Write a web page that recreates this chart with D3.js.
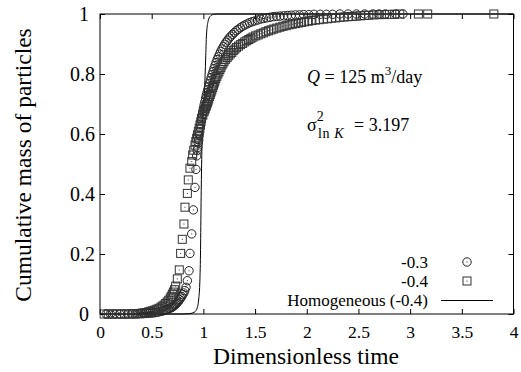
<!DOCTYPE html>
<html><head><meta charset="utf-8">
<script src="https://cdn.jsdelivr.net/npm/d3@7"></script>
<style>
body{margin:0;background:#fff}
svg{display:block}
svg text{font-family:"Liberation Serif","Times New Roman",serif !important;fill:#000}
</style>
</head><body>
<svg id="c" width="521" height="372"></svg>
<script>
// ---- data ----
const xTicks = [0, 0.5, 1, 1.5, 2, 2.5, 3, 3.5, 4];
const yTicks = [0, 0.2, 0.4, 0.6, 0.8, 1];
const seriesNames = ["-0.3", "-0.4", "Homogeneous (-0.4)"];

// -0.3 (circles): dimensionless time, cumulative mass
const circT = [0.06,0.1,0.14,0.19,0.23,0.27,0.31,0.34,0.37,0.4,0.42,0.44,0.46,0.48,0.5,0.52,0.54,0.56,0.58,0.6,0.615,0.63,0.645,0.66,0.675,0.69,0.7,0.71,0.72,0.73,0.74,0.75,0.76,0.77,0.78,0.79,0.8,0.81,0.82,0.832,
  0.845,0.861,0.870,0.887,0.903,0.919,0.928,0.935,
  0.94,0.945,0.95,0.955,0.96,0.965,0.97,0.975,0.98,0.985,0.99,0.995,1.0,1.007,1.014,1.021,1.028,1.035,1.043,1.051,1.059,1.067,1.075,1.084,1.093,1.102,1.112,1.122,1.133,1.144,1.156,1.168,1.18,1.193,1.206,1.22,1.235,1.25,1.266,1.282,1.3,1.318,1.337,1.357,1.378,1.4,1.423,1.447,1.472,1.498,1.525,1.553,1.582,1.612,1.643,1.675,1.708,1.742,1.777,1.813,1.85,1.89,1.93,1.97,2.02,2.07,2.13,2.19,2.25,2.32,2.4,2.48,2.56,2.64,2.7,2.76,2.86,2.93];
const circM = [0,0,0,0,0,0,0,0,0,0.001,0.001,0.002,0.002,0.003,0.003,0.004,0.005,0.006,0.008,0.01,0.011,0.013,0.015,0.017,0.019,0.021,0.023,0.026,0.029,0.032,0.035,0.039,0.043,0.048,0.053,0.058,0.064,0.07,0.078,0.089,
  0.111,0.144,0.202,0.267,0.347,0.422,0.482,0.527,
  0.545,0.555,0.57,0.58,0.595,0.607,0.62,0.632,0.645,0.655,0.665,0.675,0.685,0.696,0.707,0.718,0.728,0.738,0.748,0.758,0.768,0.778,0.788,0.798,0.808,0.818,0.828,0.838,0.848,0.857,0.866,0.875,0.883,0.891,0.899,0.906,0.913,0.92,0.926,0.932,0.938,0.944,0.949,0.954,0.959,0.963,0.967,0.971,0.974,0.977,0.98,0.983,0.985,0.987,0.989,0.991,0.992,0.993,0.994,0.995,0.996,0.997,0.997,0.998,0.998,0.999,0.999,0.999,0.999,1,1,1,1,1,1,1,1,1];

// -0.4 (squares)
const sqT = [0.04,0.08,0.12,0.16,0.2,0.24,0.28,0.32,0.36,0.39,0.41,0.43,0.45,0.47,0.49,0.51,0.53,0.55,0.57,0.59,0.605,0.62,0.635,0.65,0.665,0.68,0.69,0.7,0.71,0.72,0.732,
  0.748,0.767,0.78,0.796,0.812,0.822,0.845,0.854,0.870,0.887,0.896,0.907,0.919,0.927,0.935,0.943,0.951,0.959,0.967,0.975,0.983,
  0.995,1.006,1.013,1.019,1.026,1.032,1.039,1.045,1.052,1.06,1.067,1.075,1.082,1.09,1.097,1.105,1.112,1.12,1.13,1.14,1.15,1.16,1.17,1.18,1.19,1.2,1.215,1.23,1.245,1.26,1.275,1.29,1.305,1.32,1.34,1.36,1.38,1.4,1.42,1.44,1.46,1.48,1.505,1.53,1.555,1.58,1.605,1.63,1.655,1.68,1.71,1.74,1.77,1.8,1.83,1.86,1.89,1.92,1.95,1.98,2.015,2.05,2.085,2.12,2.16,2.2,2.24,2.28,2.32,2.36,2.4,2.44,2.48,2.52,2.56,2.6,2.65,2.7,2.75,2.8,2.85,2.9,3.08,3.17,3.81];
const sqM = [0,0,0,0,0,0,0,0.001,0.001,0.002,0.003,0.004,0.005,0.007,0.009,0.011,0.013,0.016,0.019,0.023,0.026,0.03,0.035,0.04,0.046,0.053,0.059,0.066,0.073,0.081,0.093,
  0.117,0.147,0.202,0.249,0.30,0.356,0.402,0.447,0.486,0.508,0.53,0.546,0.563,0.575,0.586,0.597,0.608,0.619,0.63,0.641,0.652,
  0.663,0.674,0.68,0.686,0.692,0.697,0.704,0.71,0.717,0.725,0.732,0.74,0.747,0.755,0.762,0.77,0.777,0.785,0.792,0.8,0.807,0.815,0.822,0.83,0.836,0.842,0.849,0.855,0.861,0.867,0.872,0.878,0.883,0.888,0.893,0.898,0.902,0.907,0.911,0.915,0.919,0.923,0.927,0.93,0.934,0.937,0.941,0.944,0.947,0.95,0.953,0.956,0.959,0.961,0.964,0.966,0.968,0.97,0.972,0.974,0.976,0.978,0.98,0.981,0.983,0.984,0.986,0.987,0.989,0.99,0.991,0.992,0.993,0.994,0.995,0.996,0.997,0.998,0.998,0.999,0.999,1,1,1,1];

// homogeneous (line)
const homT = [0,0.8,0.86,0.9,0.92,0.94,0.955,0.965,0.972,0.977,0.983,0.995,1.012,1.022,1.03,1.045,1.065,1.1,1.13,4];
const homM = [0,0,0.001,0.004,0.008,0.02,0.05,0.1,0.2,0.35,0.5,0.65,0.75,0.85,0.93,0.975,0.992,0.999,1,1];

// ---- chart ----
const FONT = '"Liberation Serif","Times New Roman",serif';
const svg = d3.select("#c");
const L = 100, R = 513.5, T = 14, B = 314;
const x = d3.scaleLinear().domain([0, 4]).range([L, R]);
const y = d3.scaleLinear().domain([0, 1]).range([B, T]);
const tickLen = 5;

const g = svg.append("g");

// ticks (inward, mirrored)
const axB = d3.axisBottom(x).tickValues(xTicks).tickSize(-tickLen).tickPadding(12)
  .tickFormat(d3.format("~g"));
const gb = g.append("g").attr("transform", `translate(0,${B})`).call(axB);
const axT = d3.axisTop(x).tickValues(xTicks).tickSize(-tickLen).tickFormat("");
g.append("g").attr("transform", `translate(0,${T})`).call(axT);
const axL = d3.axisLeft(y).tickValues(yTicks).tickSize(-tickLen).tickPadding(5)
  .tickFormat(d3.format("~g"));
const gl = g.append("g").attr("transform", `translate(${L},0)`).call(axL);
const axR = d3.axisRight(y).tickValues(yTicks).tickSize(-tickLen).tickFormat("");
g.append("g").attr("transform", `translate(${R},0)`).call(axR);

g.selectAll(".domain").remove();
g.selectAll("g").attr("font-family", FONT);
g.selectAll(".tick line").attr("stroke", "#000").attr("stroke-width", 1);
gb.selectAll(".tick text").attr("font-size", 17.5).style("font-family", FONT).attr("fill", "#000");
gl.selectAll(".tick text").attr("font-size", 20).style("font-family", FONT).attr("fill", "#000")
  .attr("dx", d => (d === 0 || d === 1) ? -6 : 0);

// frame
svg.append("rect").attr("x", L).attr("y", T).attr("width", R - L).attr("height", B - T)
  .attr("fill", "none").attr("stroke", "#000").attr("stroke-width", 1);

// homogeneous line
const line = d3.line().x(i => x(homT[i])).y(i => y(homM[i])).curve(d3.curveMonotoneX);
svg.append("path").attr("d", line(d3.range(homT.length)))
  .attr("fill", "none").attr("stroke", "#000").attr("stroke-width", 1);

// markers
const mk = svg.append("g");
function circle(gp, cx, cy) {
  gp.append("circle").attr("cx", cx).attr("cy", cy).attr("r", 4.2)
    .attr("fill", "none").attr("stroke", "#222").attr("stroke-width", 1);
  gp.append("rect").attr("x", cx - 0.5).attr("y", cy - 0.5).attr("width", 1).attr("height", 1).attr("fill", "#333");
}
function square(gp, cx, cy) {
  gp.append("rect").attr("x", cx - 4).attr("y", cy - 4).attr("width", 8).attr("height", 8)
    .attr("fill", "none").attr("stroke", "#333").attr("stroke-width", 1);
  gp.append("rect").attr("x", cx - 0.5).attr("y", cy - 0.5).attr("width", 1).attr("height", 1).attr("fill", "#333");
}
circT.forEach((t, i) => circle(mk, x(t), y(circM[i])));
sqT.forEach((t, i) => square(mk, x(t), y(sqM[i])));

// legend
const lg = svg.append("g").attr("font-size", 17).style("font-family", FONT);
lg.append("text").attr("x", 428).attr("y", 268).attr("text-anchor", "end").text(seriesNames[0]);
circle(lg, 467, 262);
lg.append("text").attr("x", 428).attr("y", 287).attr("text-anchor", "end").text(seriesNames[1]);
square(lg, 467, 281);
lg.append("text").attr("x", 428).attr("y", 306).attr("text-anchor", "end").text(seriesNames[2]);
lg.append("line").attr("x1", 441).attr("x2", 493).attr("y1", 300.5).attr("y2", 300.5).attr("stroke", "#000");

// annotations
const a1 = svg.append("text").attr("x", 307).attr("y", 83).attr("font-size", 18);
a1.append("tspan").attr("font-style", "italic").text("Q");
a1.append("tspan").text(" = 125 m");
a1.append("tspan").attr("font-size", 13).attr("dy", -8).text("3");
a1.append("tspan").attr("dy", 8).text("/day");

// sigma^2 and its subscript as separate stacked pieces
const a2 = svg.append("text").attr("x", 307).attr("y", 131).attr("font-size", 18);
a2.append("tspan").text("σ");
a2.append("tspan").attr("font-size", 14).attr("dy", -10).text("2");
svg.append("text").attr("x", 318).attr("y", 138).attr("font-size", 14)
  .attr("letter-spacing", 0.6)
  .call(t => { t.append("tspan").text("ln "); t.append("tspan").attr("font-style", "italic").text("K"); });
svg.append("text").attr("x", 354).attr("y", 131).attr("font-size", 18).text("= 3.197");

// axis titles
svg.append("text").attr("x", 306).attr("y", 364).attr("text-anchor", "middle")
  .attr("font-size", 23.5).text("Dimensionless time");
svg.append("text").attr("transform", "translate(31,165) rotate(-90)").attr("text-anchor", "middle")
  .attr("font-size", 23.5).text("Cumulative mass of particles");
</script>
</body></html>
